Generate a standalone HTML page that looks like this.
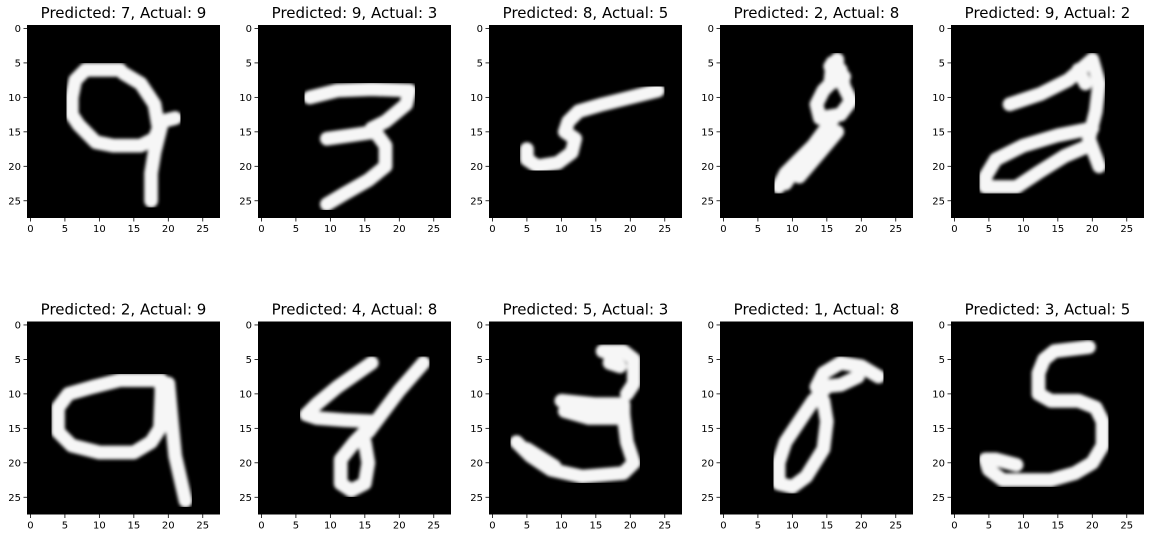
<!DOCTYPE html>
<html><head><meta charset="utf-8"><style>
html,body{margin:0;padding:0;background:#fff;}
svg{display:block;font-family:"DejaVu Sans","Liberation Sans",sans-serif;}
</style></head><body>
<svg id="fig" width="1153" height="538" viewBox="0 0 1153 538" xmlns="http://www.w3.org/2000/svg"><defs><filter id="soft" x="-5%" y="-5%" width="110%" height="110%"><feGaussianBlur stdDeviation="1.6"/></filter></defs></svg>
<script>
const predicted = [7, 9, 8, 2, 9, 2, 4, 5, 1, 3];
const actual = [9, 3, 5, 8, 2, 9, 8, 3, 8, 5];
const tickLabels = [0, 5, 10, 15, 20, 25];
const digit0 = [[[13,6],[8,6],[6.5,7.5],[6,10],[6,12.5],[7,14],[9.5,16.5],[12,17],[16,17],[18,16],[19,13.5],[21,13]],[[13.5,6.5],[16,8],[18,11],[18.5,14]],[[19,14],[18,18],[17.5,21],[17.5,25]]];
const digit1 = [[[7,10],[11,9],[16,8.8],[21.5,9],[21,11],[18,13.5],[16,14.5]],[[9.5,16],[13,15.5],[16.5,15],[18,17],[18,20],[15.5,22],[12,24],[9.5,25.5]]];
const digit2 = [[[24,9],[20,10],[16,11],[12.5,12],[11,13.5],[10.5,15],[12,16],[11.5,18],[9.5,19.5],[6.5,20],[5,19],[5,17.5]]];
const digit3 = [[[16.5,4.5],[16.5,7],[14.5,9],[13.5,11],[14,13],[17,12.5],[18.5,10.5],[17.5,8.5],[17,6]],[[16,13],[14.5,15],[13,17],[11,19],[9,21],[8,23]],[[9.5,21.5],[12,19.5]],[[15.5,5.5],[17,7.5]],[[15,14.5],[13,17.5],[10,21],[9,22.5]],[[16.5,15],[14,18],[11,21.5]],[[15.8,5],[15.5,8],[17.5,7]]];
const digit4 = [[[8,11],[12.5,9.5],[16.5,7.5],[20,4.5],[21,8],[20.5,12],[19.5,16],[21,20]],[[20,14.5],[15,15.5],[10,17],[6,19],[4.5,21.5],[4.5,23],[9,23],[12,21],[16,18.5],[19.5,17]],[[18,6],[19,8]]];
const digit5 = [[[19,8],[13,8],[9,9],[5.5,10],[4,12],[4,15.5],[6,17.5],[10,18.5],[15,18.5],[17.5,17],[18.8,15],[19,10],[19,8]],[[20,8.5],[20.5,14],[21,19],[22.5,25.5]]];
const digit6 = [[[16,5.5],[11,9],[8,11.5],[6.5,13],[8,13.5],[12,13.8],[16,14]],[[23.5,5.5],[20,9.5],[17,13.5],[15.5,15.5]],[[15.5,15],[13.5,17],[11.5,19.5],[11.5,23],[13,24],[15,23],[15.5,20],[15,17]]];
const digit7 = [[[16,3.8],[19,3.8],[20.5,5],[20.5,8.5],[19.5,10]],[[10,11],[15,11.5],[19,11.5],[19,13]],[[10.5,12.5],[14,13.5],[18,13.5]],[[19,13],[19.5,17],[20.5,20],[19,21.5],[13,22],[8.5,21],[5.5,19],[3.5,17]],[[17,4.5],[18.5,6],[17,5.5]],[[11,12],[17,12.5]],[[5,18],[9,20.5]]];
const digit8 = [[[22.5,7.5],[20,6],[17,5.5],[14.5,7],[13.5,9],[17,8.7],[19.5,7.5]],[[15,9],[13,11],[11,14],[9,17],[8,20],[8,23],[10,23.5],[12,22],[14.5,18],[15,14],[14.5,11]]];
const digit9 = [[[19.5,3.2],[14.5,3.8],[13,5],[12.2,7],[12.2,10],[14,11],[18,11],[20.5,12],[21.5,14],[21.5,17.5],[20,20],[17.5,21.5],[14,22.5],[7,22.5],[5,21],[4.5,19.5],[6,19.5],[9,20.3]]];
const digits = [digit0,digit1,digit2,digit3,digit4,digit5,digit6,digit7,digit8,digit9];

const NS = "http://www.w3.org/2000/svg";
const svg = document.getElementById('fig');
const colX = [27, 258, 489, 720, 951];
const rowY = [25, 321.5];
const W = 193, N = 28, S = W / N;
function mk(tag, attrs, parent){const e=document.createElementNS(NS,tag);for(const k in attrs)e.setAttribute(k,attrs[k]);parent.appendChild(e);return e;}
for (let i = 0; i < 10; i++) {
  const x0 = colX[i % 5], y0 = rowY[Math.floor(i / 5)];
  const sx = c => x0 + (c + 0.5) * S, sy = r => y0 + (r + 0.5) * S;
  const g = mk('g', {}, svg);
  
  
  const t = mk('text', {x: x0 + W / 2, y: y0 - 7, 'text-anchor': 'middle', 'font-size': 15, fill: '#000'}, g);
  
  
  t.textContent = 'Predicted: ' + predicted[i] + ', Actual: ' + actual[i];
  const cp = mk('clipPath', {id: 'cp' + i}, g);
  mk('rect', {x: x0, y: y0, width: W, height: W}, cp);
  const bg = mk('rect', {x: x0, y: y0, width: W, height: W, fill: '#000'}, g);
  
  
  const sg = mk('g', {'clip-path': 'url(#cp' + i + ')'}, g);
  const fg = mk('g', {filter: 'url(#soft)'}, sg);
  digits[i].forEach(stroke => {
    const p = mk('polyline', {points: stroke.map(q => sx(q[0]).toFixed(1) + ',' + sy(q[1]).toFixed(1)).join(' '), fill: 'none', stroke: '#f6f6f6', 'stroke-width': (2.0 * S).toFixed(1), 'stroke-linecap': 'round', 'stroke-linejoin': 'round'}, fg);
    
    
  });
  tickLabels.forEach(v => {
    mk('line', {x1: sx(v), x2: sx(v), y1: y0 + W, y2: y0 + W + 3.5, stroke: '#000', 'stroke-width': 0.8}, g);
    const xl = mk('text', {x: sx(v), y: y0 + W + 14, 'text-anchor': 'middle', 'font-size': 10, fill: '#000'}, g);
    
    
    xl.textContent = v;
    mk('line', {x1: x0 - 3.5, x2: x0, y1: sy(v), y2: sy(v), stroke: '#000', 'stroke-width': 0.8}, g);
    const yl = mk('text', {x: x0 - 6, y: sy(v) + 3.5, 'text-anchor': 'end', 'font-size': 10, fill: '#000'}, g);
    
    
    yl.textContent = v;
  });
}
</script>
</body></html>
